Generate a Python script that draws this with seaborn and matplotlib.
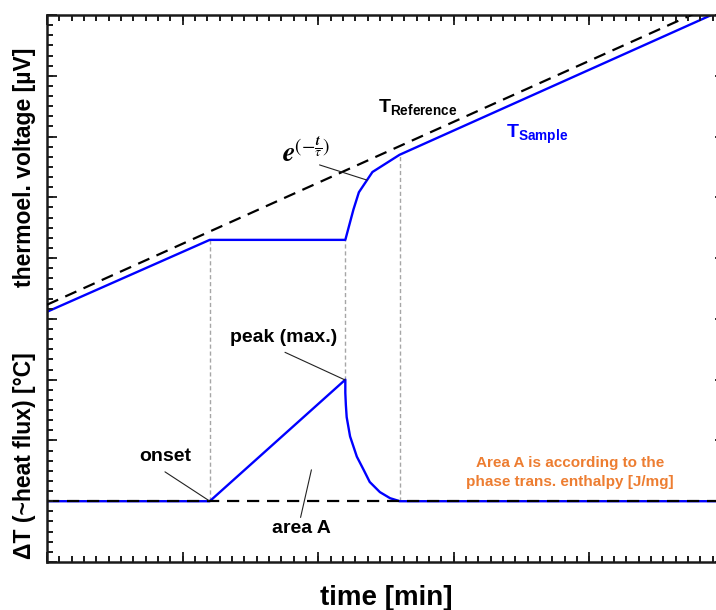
import numpy as np
import pandas as pd
import matplotlib
matplotlib.use("Agg")
import matplotlib.pyplot as plt
from matplotlib.ticker import MultipleLocator, AutoMinorLocator
import seaborn as sns

# ---------------- data ----------------
t_ref = [0, 50]
v_ref = [25.4, 55.5]

t_sample = [0, 12, 22, 22.6, 23.0, 24.0, 26, 50]
v_sample = [24.7, 31.8, 31.8, 34.8, 36.5, 38.5, 40.2, 54.6]

t_dta = [0, 12, 22, 22.0, 22.04, 22.1, 22.35, 22.85, 23.35, 23.8, 24.55, 25.3, 25.9, 26, 50]
dT = [6, 6, 18, 16.7, 15.5, 14.3, 12.4, 10.4, 9.1, 7.9, 6.9, 6.3, 6.05, 6, 6]

t_base = [0, 50]
v_base = [6, 6]

guide_t = [12, 22, 26]
guide_low = [6, 18, 6]
guide_high = [31.8, 31.8, 40.2]

# ---------------- style ----------------
sns.set_theme(style="ticks")
plt.rcParams["font.family"] = ["Liberation Sans", "DejaVu Sans"]
plt.rcParams["mathtext.fontset"] = "custom"
plt.rcParams["mathtext.rm"] = "Liberation Sans"
plt.rcParams["mathtext.bf"] = "Liberation Sans:bold"
plt.rcParams["mathtext.it"] = "Liberation Sans:italic"
plt.rcParams["text.color"] = "black"
plt.rcParams["axes.labelcolor"] = "black"

BLUE = "#0000FF"
ORANGE = "#ED7D31"
INK = "#1a1a1a"

fig = plt.figure(figsize=(7.16, 6.10), dpi=100)
# the plotting frame runs off the right edge of the picture (as in the reference)
ax = fig.add_axes([47 / 716, 48 / 610, 678 / 716, 547 / 610])

# guide lines
ax.vlines(guide_t, guide_low, guide_high, colors="#A6A6A6", linewidth=1.0,
          linestyles=(0, (3, 2)), zorder=1)

df_s = pd.DataFrame({"t": t_sample, "v": v_sample})
df_d = pd.DataFrame({"t": t_dta, "v": dT})
df_r = pd.DataFrame({"t": t_ref, "v": v_ref})
df_b = pd.DataFrame({"t": t_base, "v": v_base})

sns.lineplot(data=df_s, x="t", y="v", ax=ax, color=BLUE, linewidth=1.7,
             sort=False, estimator=None, zorder=2)
sns.lineplot(data=df_d, x="t", y="v", ax=ax, color=BLUE, linewidth=1.7,
             sort=False, estimator=None, zorder=2)
sns.lineplot(data=df_r, x="t", y="v", ax=ax, color="black", linewidth=1.6,
             sort=False, estimator=None, zorder=3)
sns.lineplot(data=df_b, x="t", y="v", ax=ax, color="black", linewidth=1.6,
             sort=False, estimator=None, zorder=3)
for ln in ax.lines[2:]:
    ln.set_dashes((5.5, 3.5))

ax.set_xlim(0, 50)
ax.set_ylim(0, 54)
ax.set_xlabel("")
ax.set_ylabel("")

# twin axes that carry the small ticks as their own major ticks
twx = ax.twiny()
twy = ax.twinx()
twx.set_xlim(ax.get_xlim())
twy.set_ylim(ax.get_ylim())
twx.xaxis.set_major_locator(MultipleLocator(10 / 11))
twy.yaxis.set_major_locator(MultipleLocator(1))
twx.tick_params(axis="x", which="both", direction="in", top=True, bottom=True,
                labeltop=False, labelbottom=False, length=4.2, width=1.2, color=INK)
twy.tick_params(axis="y", which="both", direction="in", left=True, right=True,
                labelleft=False, labelright=False, length=4.2, width=1.2, color=INK)
for t in (twx, twy):
    for sp in t.spines.values():
        sp.set_visible(False)

ax.xaxis.set_major_locator(MultipleLocator(10))
ax.xaxis.set_minor_locator(MultipleLocator(10 / 11))
ax.yaxis.set_major_locator(MultipleLocator(6))
ax.yaxis.set_minor_locator(AutoMinorLocator(6))
ax.tick_params(which="both", direction="in", top=True, right=True,
               bottom=True, left=True,
               labelbottom=False, labelleft=False, labeltop=False,
               labelright=False, color=INK)
ax.tick_params(which="major", length=7, width=1.3)
ax.tick_params(which="minor", length=4.2, width=1.2)
for sp in ax.spines.values():
    sp.set_linewidth(1.8)
    sp.set_color(INK)
    sp.set_visible(True)

# texts
ax.text(24.41, 44.42, r"$\mathbf{T}_{\mathbf{Reference}}$", fontsize=14,
        ha="left", va="baseline", color="black")
ax.text(36.17, 41.86, r"$\mathbf{T}_{\mathbf{Sample}}$", fontsize=14,
        ha="center", va="baseline", color=BLUE)
ax.text(17.35, 39.49, r"$\mathbfit{e}^{(-\frac{\mathbfit{t}}{\tau})}$", fontsize=20,
        ha="left", va="baseline", color="black", math_fontfamily="stix")

ax.text(17.48, 22.16, "peak (max.)", fontsize=14, fontweight="bold",
        ha="center", va="center")
ax.text(8.70, 10.4, "onset", fontsize=14, fontweight="bold",
        ha="center", va="center")
ax.text(18.73, 3.26, "area A", fontsize=14, fontweight="bold",
        ha="center", va="center")
ax.text(38.57, 9.77, "Area A is according to the", fontsize=11,
        fontweight="bold", ha="center", va="center", color=ORANGE)
ax.text(38.57, 7.9, "phase trans. enthalpy [J/mg]", fontsize=11,
        fontweight="bold", ha="center", va="center", color=ORANGE)

# connector lines
conn = dict(arrowstyle="-", color="#222222", lw=0.8, shrinkA=0, shrinkB=0)
ax.annotate("", xy=(23.6, 37.7), xytext=(20.1, 39.2), arrowprops=conn)
ax.annotate("", xy=(21.98, 17.97), xytext=(17.55, 20.7), arrowprops=conn)
ax.annotate("", xy=(11.9, 6.1), xytext=(8.7, 8.9), arrowprops=conn)
ax.annotate("", xy=(18.7, 4.4), xytext=(19.5, 9.1), arrowprops=conn)

# axis titles
fig.text(25 / 716, (610 - 167) / 610, "thermoel. voltage [µV]", rotation=90,
         fontsize=16.5, fontweight="bold", ha="center", va="center")
fig.text(25 / 716, (610 - 456) / 610, "ΔT (~heat flux) [°C]", rotation=90,
         fontsize=16.5, fontweight="bold", ha="center", va="center")
fig.text(386 / 716, 5 / 610, "time [min]", fontsize=20, fontweight="bold",
         ha="center", va="baseline")

fig.savefig("out.png", dpi=100)
